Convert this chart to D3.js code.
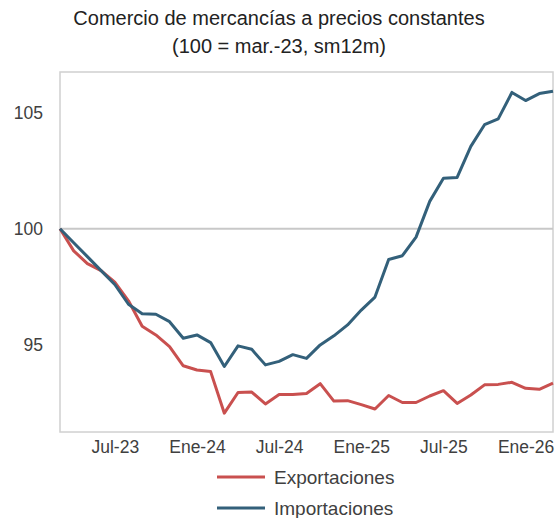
<!DOCTYPE html>
<html>
<head>
<meta charset="utf-8">
<script src="https://cdn.jsdelivr.net/npm/d3@7"></script>
<style>
  body { margin: 0; background: #fff; }
  svg { font-family: "Liberation Sans", Arial, sans-serif; }
</style>
</head>
<body>
<div id="chart"></div>
<script>
// Dimensions
const width = 556;
const height = 518;
const margin = { top: 72, right: 3, bottom: 86, left: 60 };

// Months from mar-23 to mar-26 (index 0 = mar-23)
const months = d3.range(37);
const tickMonths = [4, 10, 16, 22, 28, 34];
const tickLabels = ["Jul-23", "Ene-24", "Jul-24", "Ene-25", "Jul-25", "Ene-26"];
const yTicks = [95, 100, 105];

const exportaciones = [
  100, 99.05, 98.5, 98.2, 97.7, 96.9, 95.8, 95.43, 94.93, 94.1, 93.92, 93.85,
  92.06, 92.95, 92.97, 92.46, 92.86, 92.86, 92.91, 93.33, 92.58, 92.6, 92.43, 92.24,
  92.82, 92.52, 92.52, 92.8, 93.03, 92.48, 92.84, 93.28, 93.3, 93.39, 93.13, 93.09, 93.35
];
const importaciones = [
  100, 99.4, 98.8, 98.2, 97.6, 96.75, 96.34, 96.32, 96.0, 95.29, 95.43, 95.1,
  94.07, 94.96, 94.81, 94.14, 94.29, 94.58, 94.42, 95.0, 95.39, 95.86, 96.5, 97.06,
  98.68, 98.84, 99.64, 101.18, 102.18, 102.21, 103.55, 104.48, 104.73, 105.87, 105.52, 105.82, 105.92
];

const series = [
  { name: "Exportaciones", values: exportaciones, color: "#c9504f" },
  { name: "Importaciones", values: importaciones, color: "#33607a" }
];

const svg = d3
  .select("#chart")
  .append("svg")
  .attr("width", width)
  .attr("height", height);

// Scales
const x = d3
  .scaleLinear()
  .domain([0, 36])
  .range([margin.left, width - margin.right]);

const y = d3
  .scaleLinear()
  .domain([91.25, 106.75])
  .range([height - margin.bottom, margin.top]);

// Title
svg
  .append("text")
  .attr("x", 279)
  .attr("y", 25)
  .attr("text-anchor", "middle")
  .attr("font-size", "20px")
  .attr("fill", "#222")
  .text("Comercio de mercancías a precios constantes");

svg
  .append("text")
  .attr("x", 279)
  .attr("y", 53)
  .attr("text-anchor", "middle")
  .attr("font-size", "20px")
  .attr("fill", "#222")
  .text("(100 = mar.-23, sm12m)");

// Plot border
svg
  .append("rect")
  .attr("x", margin.left)
  .attr("y", margin.top)
  .attr("width", width - margin.left - margin.right)
  .attr("height", height - margin.top - margin.bottom)
  .attr("fill", "none")
  .attr("stroke", "#d0d0d0")
  .attr("stroke-width", 1.5);

// Base line at 100
svg
  .append("line")
  .attr("x1", margin.left)
  .attr("x2", width - margin.right)
  .attr("y1", y(100))
  .attr("y2", y(100))
  .attr("stroke", "#c8c8c8")
  .attr("stroke-width", 2);

// Axes
const xAxis = d3
  .axisBottom(x)
  .tickValues(tickMonths)
  .tickSize(0)
  .tickPadding(9)
  .tickFormat((d, i) => tickLabels[i]);

const yAxis = d3.axisLeft(y).tickValues(yTicks).tickSize(0).tickPadding(17);

const gx = svg
  .append("g")
  .attr("transform", `translate(0,${height - margin.bottom})`)
  .call(xAxis);

const gy = svg
  .append("g")
  .attr("transform", `translate(${margin.left},0)`)
  .call(yAxis);

[gx, gy].forEach(g => {
  g.select(".domain").remove();
  g.selectAll("text")
    .attr("font-size", "17.5px")
    .attr("fill", "#404040")
    .attr("font-family", "Liberation Sans, Arial, sans-serif");
});

// Lines
const line = d3
  .line()
  .x((d, i) => x(months[i]))
  .y(d => y(d));

series.forEach(s => {
  svg
    .append("path")
    .datum(s.values)
    .attr("fill", "none")
    .attr("stroke", s.color)
    .attr("stroke-width", 3)
    .attr("stroke-linejoin", "round")
    .attr("d", line);
});

// Legend
const legend = svg
  .append("g")
  .selectAll("g")
  .data(series)
  .join("g")
  .attr("transform", (d, i) => `translate(217,${477 + i * 31})`);

legend
  .append("line")
  .attr("x1", 0)
  .attr("x2", 48)
  .attr("stroke", d => d.color)
  .attr("stroke-width", 3);

legend
  .append("text")
  .attr("x", 57)
  .attr("dy", "0.35em")
  .attr("font-size", "19px")
  .attr("fill", "#404040")
  .text(d => d.name);
</script>
</body>
</html>
